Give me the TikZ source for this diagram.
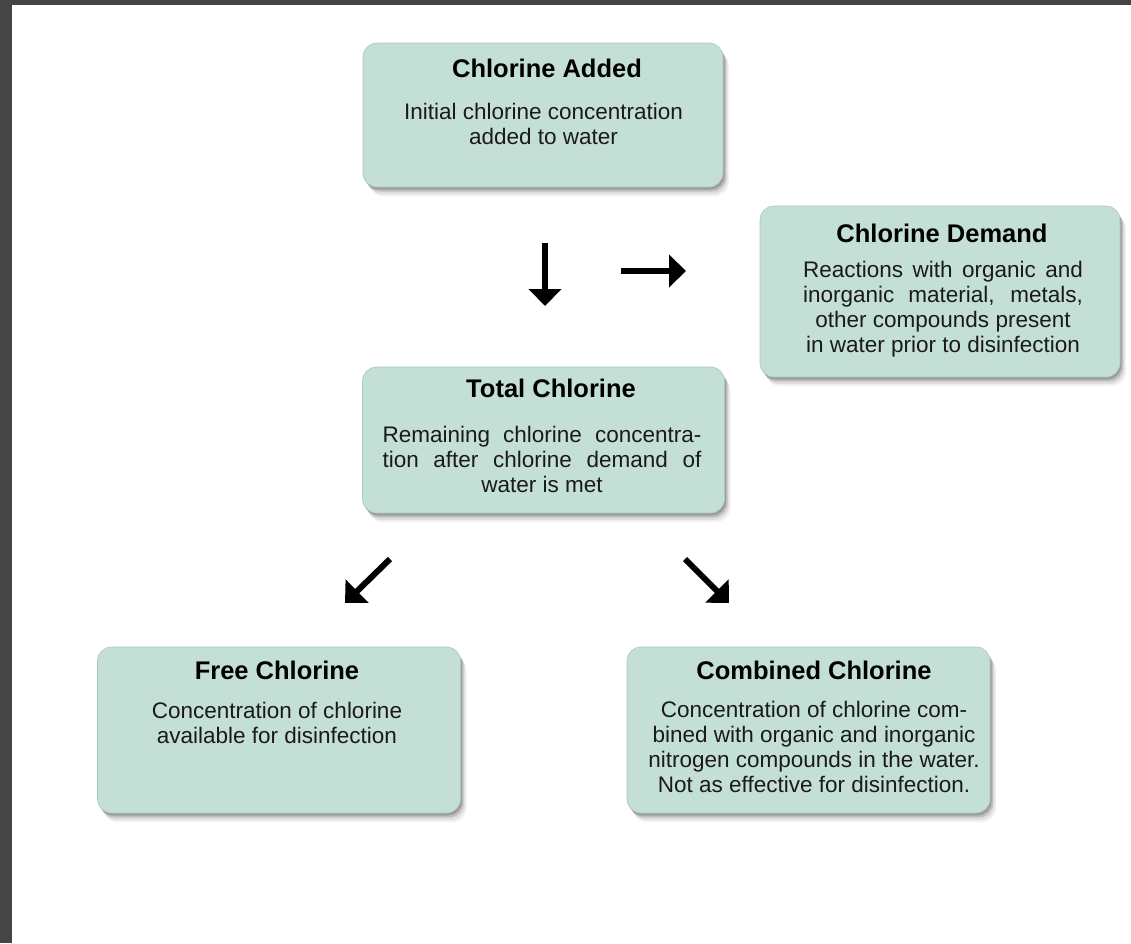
\documentclass[tikz,border=0pt]{standalone}
\usepackage{fontspec}
\setmainfont{Liberation Sans}
\usetikzlibrary{shadows,arrows.meta}
\definecolor{boxfill}{HTML}{C4DFD5}
\definecolor{boxedge}{HTML}{A9C9BD}
\definecolor{framegray}{HTML}{454545}
\definecolor{textgray}{HTML}{1A1A1A}
\begin{document}
\begin{tikzpicture}[x=1pt,y=-1pt,
  cbox/.style={rectangle, rounded corners=14pt, fill=boxfill, draw=boxedge, line width=0.6pt, inner sep=0pt,
    general shadow={shadow xshift=6pt, shadow yshift=-9pt, fill=black, opacity=0.05},
    general shadow={shadow xshift=4.5pt, shadow yshift=-7pt, fill=black, opacity=0.08},
    general shadow={shadow xshift=3pt, shadow yshift=-4.5pt, fill=black, opacity=0.14},
    general shadow={shadow xshift=1.5pt, shadow yshift=-2.5pt, fill=black, opacity=0.18}},
  ttl/.style={anchor=base, inner sep=0pt, font=\fontsize{25.5}{30}\selectfont\bfseries, text=black},
  bdy/.style={anchor=north, inner sep=0pt, align=center, font=\fontsize{22.5}{25}\selectfont, text=textgray},
  arr/.style={line width=6pt, -{Triangle[length=17pt,width=32pt]}}]
\useasboundingbox (0,0) rectangle (1131,943);
\fill[white] (0,0) rectangle (1131,943);
\fill[framegray] (0,0) rectangle (12,943);
\fill[framegray] (0,0) rectangle (1131,5);

% boxes
\node[cbox, minimum width=360pt, minimum height=144pt] (added) at (543,115) {};
\node[cbox, minimum width=360pt, minimum height=171pt] (demand) at (940,291.5) {};
\node[cbox, minimum width=362pt, minimum height=146pt] (total) at (543.5,440) {};
\node[cbox, minimum width=363pt, minimum height=166pt] (free) at (279,730) {};
\node[cbox, minimum width=363pt, minimum height=166pt] (combined) at (808.5,730) {};

% texts
\node[ttl] (addedT) at (547,77) {Chlorine Added};
\node[bdy] (addedB) at (543.5,101) {\rule{0pt}{18pt}Initial chlorine concentration\\added to water};

\node[ttl] (demandT) at (942,242) {Chlorine Demand};
\node[bdy] (demandB) at (943,259) {\rule{0pt}{18pt}\makebox[280pt][s]{Reactions with organic and}\\\makebox[280pt][s]{inorganic material, metals,}\\other compounds present\\in water prior to disinfection};

\node[ttl] (totalT) at (551,397) {Total Chlorine};
\node[bdy] (totalB) at (542,424) {\rule{0pt}{18pt}\makebox[319pt][s]{Remaining chlorine concentra-}\\\makebox[319pt][s]{tion after chlorine demand of}\\water is met};

\node[ttl] (freeT) at (277,679) {Free Chlorine};
\node[bdy] (freeB) at (277,700) {\rule{0pt}{18pt}Concentration of chlorine\\available for disinfection};

\node[ttl] (combinedT) at (814,679) {Combined Chlorine};
\node[bdy] (combinedB) at (814,699) {\rule{0pt}{18pt}Concentration of chlorine com-\\bined with organic and inorganic\\nitrogen compounds in the water.\\Not as effective for disinfection.};

% arrows
\coordinate (downS) at (545,243);
\coordinate (downE) at (545,306);
\coordinate (rightS) at (621,271);
\coordinate (rightE) at (686,271);
\coordinate (dlS) at (390,559);
\coordinate (dlE) at (345,603);
\coordinate (drS) at (685,559);
\coordinate (drE) at (729,603);
\draw[arr] (downS) -- (downE);
\draw[arr] (rightS) -- (rightE);
\draw[arr] (dlS) -- (dlE);
\draw[arr] (drS) -- (drE);
\end{tikzpicture}
\end{document}
